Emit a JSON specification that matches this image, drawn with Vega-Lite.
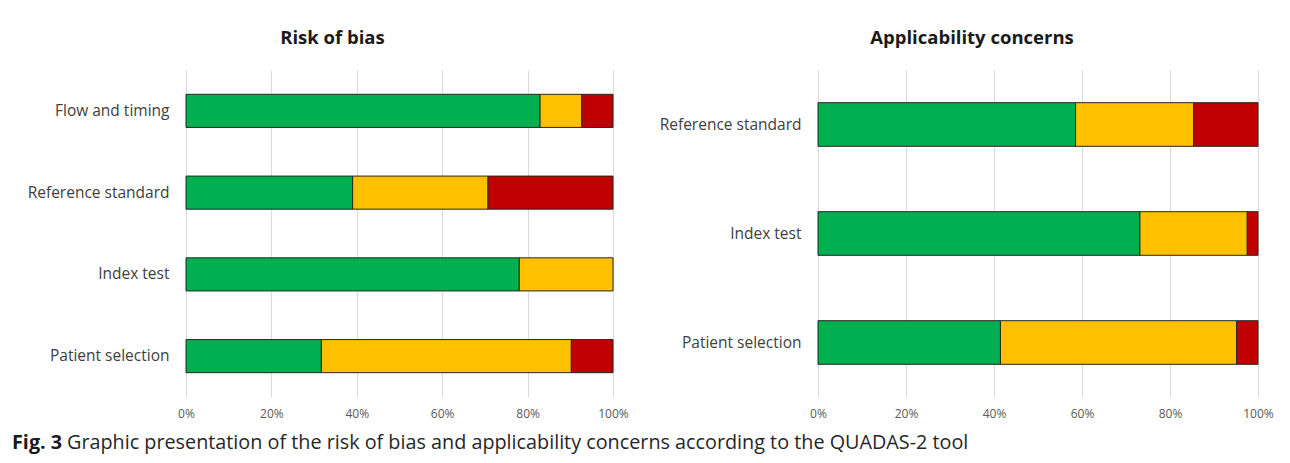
{
  "$schema": "https://vega.github.io/schema/vega-lite/v6.json",
  "background": "white",
  "padding": {"left": 12, "top": 28, "right": 0, "bottom": 10},
  "datasets": {
    "bias": [
      {"domain": "Flow and timing", "judgement": "Low", "level": 1, "studies": 34},
      {"domain": "Flow and timing", "judgement": "Unclear", "level": 2, "studies": 4},
      {"domain": "Flow and timing", "judgement": "High", "level": 3, "studies": 3},
      {"domain": "Reference standard", "judgement": "Low", "level": 1, "studies": 16},
      {"domain": "Reference standard", "judgement": "Unclear", "level": 2, "studies": 13},
      {"domain": "Reference standard", "judgement": "High", "level": 3, "studies": 12},
      {"domain": "Index test", "judgement": "Low", "level": 1, "studies": 32},
      {"domain": "Index test", "judgement": "Unclear", "level": 2, "studies": 9},
      {"domain": "Patient selection", "judgement": "Low", "level": 1, "studies": 13},
      {"domain": "Patient selection", "judgement": "Unclear", "level": 2, "studies": 24},
      {"domain": "Patient selection", "judgement": "High", "level": 3, "studies": 4}
    ],
    "applicability": [
      {"domain": "Reference standard", "judgement": "Low", "level": 1, "studies": 24},
      {"domain": "Reference standard", "judgement": "Unclear", "level": 2, "studies": 11},
      {"domain": "Reference standard", "judgement": "High", "level": 3, "studies": 6},
      {"domain": "Index test", "judgement": "Low", "level": 1, "studies": 30},
      {"domain": "Index test", "judgement": "Unclear", "level": 2, "studies": 10},
      {"domain": "Index test", "judgement": "High", "level": 3, "studies": 1},
      {"domain": "Patient selection", "judgement": "Low", "level": 1, "studies": 17},
      {"domain": "Patient selection", "judgement": "Unclear", "level": 2, "studies": 22},
      {"domain": "Patient selection", "judgement": "High", "level": 3, "studies": 2}
    ]
  },
  "config": {
    "view": {"stroke": null},
    "font": "Open Sans",
    "axisY": {"title": null, "ticks": false, "domain": false, "grid": false, "labelPadding": 17, "labelFontSize": 15.5, "labelColor": "#404040", "labelFont": "Open Sans"},
    "axisX": {"title": null, "ticks": false, "domain": false, "grid": true, "gridColor": "#d9d9d9", "gridWidth": 1, "labelPadding": 11, "labelFontSize": 12, "labelColor": "#595959", "labelFont": "Open Sans", "labelFlush": false},
    "title": {"fontSize": 18.5, "fontWeight": "bold", "color": "#1a1a1a", "font": "Open Sans", "anchor": "middle", "frame": "group", "baseline": "alphabetic", "offset": 23}
  },
  "bounds": "flush",
  "spacing": 205,
  "hconcat": [
    {
      "width": 427,
      "height": 327,
      "title": {"text": "Risk of bias", "dx": -67},
      "layer": [
        {
          "data": {"name": "bias"},
          "mark": {"type": "bar", "stroke": "#262626", "strokeWidth": 1},
          "encoding": {
            "y": {"field": "domain", "type": "nominal", "sort": ["Flow and timing", "Reference standard", "Index test", "Patient selection"], "scale": {"paddingInner": 0.595, "paddingOuter": 0.2975}},
            "x": {"field": "studies", "type": "quantitative", "stack": "normalize", "scale": {"domain": [0, 1]}, "axis": {"format": "%", "values": [0, 0.2, 0.4, 0.6, 0.8, 1]}},
            "order": {"field": "level", "type": "quantitative"},
            "color": {"field": "judgement", "type": "nominal", "scale": {"domain": ["Low", "Unclear", "High"], "range": ["#00b050", "#ffc000", "#c00000"]}, "legend": null}
          }
        },
        {
          "data": {"values": [{"t": "Fig. 3"}]},
          "mark": {"type": "text", "align": "left", "baseline": "middle", "fontSize": 19.8, "fontWeight": "bold", "color": "#1a1a1a", "font": "Open Sans"},
          "encoding": {"text": {"field": "t"}, "x": {"value": -174}, "y": {"value": 373}}
        },
        {
          "data": {"values": [{"t": "Graphic presentation of the risk of bias and applicability concerns according to the QUADAS-2 tool"}]},
          "mark": {"type": "text", "align": "left", "baseline": "middle", "fontSize": 19.8, "color": "#262626", "font": "Open Sans"},
          "encoding": {"text": {"field": "t"}, "x": {"value": -119}, "y": {"value": 373}}
        }
      ]
    },
    {
      "width": 440,
      "height": 327,
      "title": {"text": "Applicability concerns", "dx": -66},
      "data": {"name": "applicability"},
      "mark": {"type": "bar", "stroke": "#262626", "strokeWidth": 1},
      "encoding": {
        "y": {"field": "domain", "type": "nominal", "sort": ["Reference standard", "Index test", "Patient selection"], "scale": {"paddingInner": 0.6, "paddingOuter": 0.3}},
        "x": {"field": "studies", "type": "quantitative", "stack": "normalize", "scale": {"domain": [0, 1]}, "axis": {"format": "%", "values": [0, 0.2, 0.4, 0.6, 0.8, 1]}},
        "order": {"field": "level", "type": "quantitative"},
        "color": {"field": "judgement", "type": "nominal", "scale": {"domain": ["Low", "Unclear", "High"], "range": ["#00b050", "#ffc000", "#c00000"]}, "legend": null}
      }
    }
  ]
}
